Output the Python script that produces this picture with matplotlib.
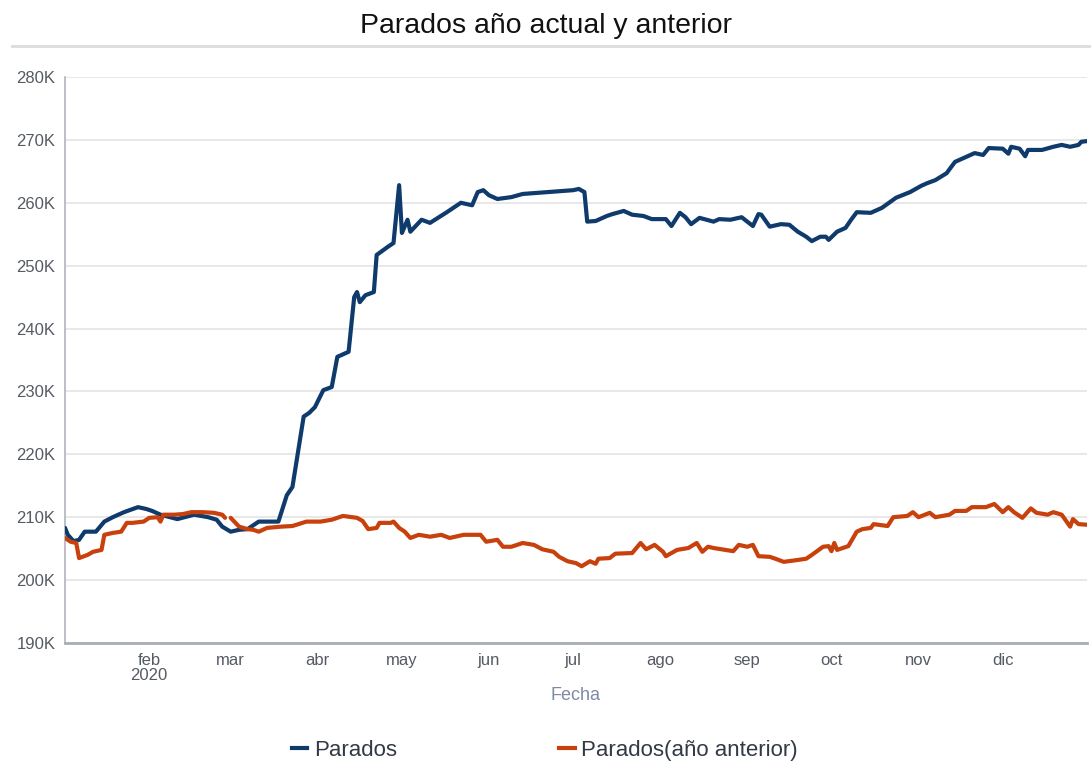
import matplotlib
matplotlib.use("Agg")
import matplotlib.pyplot as plt
from matplotlib.lines import Line2D
import pandas as pd
import numpy as np

plt.rcParams['font.family'] = ['Liberation Sans', 'DejaVu Sans']

# --- data (values in thousands) ---
parados_dates = [
    "2020-01-02", "2020-01-03", "2020-01-05", "2020-01-07", "2020-01-09", "2020-01-13",
    "2020-01-16", "2020-01-19", "2020-01-23", "2020-01-28", "2020-01-31", "2020-02-02",
    "2020-02-05", "2020-02-11", "2020-02-17", "2020-02-22", "2020-02-25", "2020-02-27",
    "2020-03-01", "2020-03-04", "2020-03-07", "2020-03-11", "2020-03-18", "2020-03-19",
    "2020-03-21", "2020-03-23", "2020-03-27", "2020-03-29", "2020-03-31", "2020-04-03",
    "2020-04-06", "2020-04-08", "2020-04-12", "2020-04-14", "2020-04-15", "2020-04-16",
    "2020-04-18", "2020-04-21", "2020-04-22", "2020-04-26", "2020-04-28", "2020-04-30",
    "2020-05-01", "2020-05-03", "2020-05-04", "2020-05-08", "2020-05-11", "2020-05-17",
    "2020-05-22", "2020-05-26", "2020-05-28", "2020-05-30", "2020-06-01", "2020-06-04",
    "2020-06-09", "2020-06-13", "2020-06-22", "2020-07-01", "2020-07-03", "2020-07-05",
    "2020-07-06", "2020-07-09", "2020-07-13", "2020-07-15", "2020-07-19", "2020-07-22",
    "2020-07-26", "2020-07-29", "2020-08-03", "2020-08-05", "2020-08-08", "2020-08-10",
    "2020-08-12", "2020-08-15", "2020-08-20", "2020-08-22", "2020-08-26", "2020-08-30",
    "2020-09-03", "2020-09-05", "2020-09-06", "2020-09-09", "2020-09-13", "2020-09-16",
    "2020-09-19", "2020-09-22", "2020-09-24", "2020-09-27", "2020-09-29", "2020-09-30",
    "2020-10-03", "2020-10-06", "2020-10-08", "2020-10-10", "2020-10-15", "2020-10-19",
    "2020-10-24", "2020-10-29", "2020-11-02", "2020-11-04", "2020-11-07", "2020-11-11",
    "2020-11-14", "2020-11-18", "2020-11-21", "2020-11-24", "2020-11-26", "2020-12-01",
    "2020-12-03", "2020-12-04", "2020-12-07", "2020-12-09", "2020-12-10", "2020-12-15",
    "2020-12-19", "2020-12-22", "2020-12-25", "2020-12-28", "2020-12-29", "2020-12-31",
]
parados_values = [
    208.3, 207.2, 206.2, 206.4, 207.7, 207.7,
    209.3, 210.0, 210.8, 211.6, 211.3, 211.0,
    210.4, 209.7, 210.4, 210.0, 209.6, 208.5,
    207.7, 208.0, 208.1, 209.3, 209.3, 210.7,
    213.5, 214.8, 226.0, 226.6, 227.5, 230.2,
    230.7, 235.5, 236.3, 245.0, 245.8, 244.2,
    245.3, 245.8, 251.7, 253.0, 253.6, 262.8,
    255.2, 257.3, 255.4, 257.3, 256.8, 258.5,
    260.0, 259.6, 261.7, 262.0, 261.2, 260.6,
    260.9, 261.4, 261.7, 262.0, 262.2, 261.7,
    257.0, 257.1, 257.9, 258.2, 258.7, 258.1,
    257.9, 257.4, 257.4, 256.3, 258.4, 257.7,
    256.6, 257.6, 257.0, 257.4, 257.3, 257.7,
    256.3, 258.2, 258.1, 256.2, 256.6, 256.5,
    255.4, 254.6, 253.9, 254.6, 254.6, 254.1,
    255.4, 256.0, 257.3, 258.5, 258.4, 259.2,
    260.8, 261.7, 262.7, 263.1, 263.6, 264.7,
    266.5, 267.3, 267.9, 267.6, 268.7, 268.6,
    267.8, 268.9, 268.6, 267.4, 268.4, 268.4,
    268.9, 269.2, 268.9, 269.2, 269.7, 269.8,
]

anterior_dates = [
    "2020-01-02", "2020-01-04", "2020-01-06", "2020-01-07", "2020-01-10", "2020-01-12",
    "2020-01-15", "2020-01-16", "2020-01-19", "2020-01-22", "2020-01-24", "2020-01-26",
    "2020-01-30", "2020-02-01", "2020-02-04", "2020-02-05", "2020-02-06", "2020-02-10",
    "2020-02-13", "2020-02-16", "2020-02-20", "2020-02-24", "2020-02-27", "2020-02-28",
    "2020-02-29",
    "2020-03-01", "2020-03-04", "2020-03-07", "2020-03-09", "2020-03-11", "2020-03-14",
    "2020-03-19", "2020-03-23", "2020-03-28", "2020-04-02", "2020-04-06", "2020-04-10",
    "2020-04-15", "2020-04-17", "2020-04-19", "2020-04-22", "2020-04-23", "2020-04-27",
    "2020-04-28", "2020-04-30", "2020-05-02", "2020-05-04", "2020-05-07", "2020-05-11",
    "2020-05-15", "2020-05-18", "2020-05-23", "2020-05-29", "2020-05-31", "2020-06-04",
    "2020-06-06", "2020-06-09", "2020-06-13", "2020-06-17", "2020-06-20", "2020-06-24",
    "2020-06-26", "2020-06-29", "2020-07-02", "2020-07-04", "2020-07-07", "2020-07-09",
    "2020-07-10", "2020-07-14", "2020-07-16", "2020-07-22", "2020-07-25", "2020-07-27",
    "2020-07-30", "2020-08-02", "2020-08-03", "2020-08-07", "2020-08-11", "2020-08-14",
    "2020-08-16", "2020-08-18", "2020-08-20", "2020-08-27", "2020-08-29", "2020-09-01",
    "2020-09-03", "2020-09-05", "2020-09-09", "2020-09-11", "2020-09-14", "2020-09-19",
    "2020-09-22", "2020-09-24", "2020-09-28", "2020-09-30", "2020-10-01", "2020-10-02",
    "2020-10-03", "2020-10-07", "2020-10-10", "2020-10-12", "2020-10-15", "2020-10-16",
    "2020-10-21", "2020-10-23", "2020-10-28", "2020-10-30", "2020-11-01", "2020-11-05",
    "2020-11-07", "2020-11-12", "2020-11-14", "2020-11-18", "2020-11-20", "2020-11-25",
    "2020-11-28", "2020-12-01", "2020-12-03", "2020-12-05", "2020-12-08", "2020-12-11",
    "2020-12-13", "2020-12-17", "2020-12-19", "2020-12-22", "2020-12-25", "2020-12-26",
    "2020-12-28", "2020-12-31",
]
anterior_values = [
    206.7, 206.1, 205.9, 203.5, 204.0, 204.5,
    204.8, 207.2, 207.5, 207.7, 209.1, 209.1,
    209.3, 209.9, 210.0, 209.3, 210.4, 210.4,
    210.5, 210.8, 210.8, 210.7, 210.4, 209.9,
    np.nan,
    209.9, 208.5, 208.1, 208.0, 207.7, 208.3,
    208.5, 208.6, 209.3, 209.3, 209.6, 210.2,
    209.9, 209.4, 208.1, 208.3, 209.1, 209.1,
    209.3, 208.3, 207.7, 206.7, 207.2, 206.9,
    207.2, 206.7, 207.2, 207.2, 206.1, 206.4,
    205.3, 205.3, 205.9, 205.6, 204.9, 204.5,
    203.7, 203.0, 202.7, 202.2, 203.0, 202.6,
    203.4, 203.5, 204.2, 204.3, 205.9, 204.9,
    205.6, 204.5, 203.8, 204.8, 205.1, 205.9,
    204.5, 205.3, 205.1, 204.6, 205.6, 205.3,
    205.6, 203.8, 203.7, 203.4, 202.9, 203.2,
    203.4, 204.0, 205.3, 205.4, 204.6, 205.9,
    204.8, 205.4, 207.7, 208.1, 208.3, 208.9,
    208.6, 210.0, 210.2, 210.8, 210.0, 210.7,
    210.0, 210.4, 211.0, 211.0, 211.6, 211.6,
    212.1, 210.8, 211.6, 210.8, 209.9, 211.4,
    210.7, 210.4, 210.8, 210.4, 208.5, 209.7,
    208.9, 208.8,
]

series_labels = ["Parados", "Parados(año anterior)"]
month_labels = ["feb\n2020", "mar", "abr", "may", "jun", "jul", "ago", "sep", "oct", "nov", "dic"]
month_starts = ["2020-02-01", "2020-03-01", "2020-04-01", "2020-05-01", "2020-06-01", "2020-07-01",
                "2020-08-01", "2020-09-01", "2020-10-01", "2020-11-01", "2020-12-01"]
y_ticks = [190, 200, 210, 220, 230, 240, 250, 260, 270, 280]

BLUE = "#0f3a6c"
ORANGE = "#c8400c"
GREY_TXT = "#555a63"

fig = plt.figure(figsize=(10.91, 7.63), dpi=100)
ax = fig.add_axes([0.0596, 0.1573, 0.9367, 0.7418])

ax.plot(pd.to_datetime(parados_dates), parados_values, color=BLUE, lw=3.0,
        solid_joinstyle="round", solid_capstyle="round", label=series_labels[0], zorder=3)
ax.plot(pd.to_datetime(anterior_dates), anterior_values, color=ORANGE, lw=3.0,
        solid_joinstyle="round", solid_capstyle="round", label=series_labels[1], zorder=3)

ax.set_ylim(190, 280)
ax.set_yticks(y_ticks)
ax.set_yticklabels([f"{v}K" for v in y_ticks], color=GREY_TXT, fontsize=12)
ax.set_xlim(pd.Timestamp("2020-01-02"), pd.Timestamp("2020-12-31"))
ax.set_xticks(pd.to_datetime(month_starts))
ax.set_xticklabels(month_labels, color=GREY_TXT, fontsize=12, linespacing=1.0)
ax.tick_params(axis="both", length=0)
ax.tick_params(axis="y", pad=7)
ax.tick_params(axis="x", pad=7)

ax.grid(axis="y", color="#e4e4e4", lw=1.2)
ax.set_axisbelow(True)
for s in ["top", "right"]:
    ax.spines[s].set_visible(False)
ax.spines["left"].set_color("#b0b4bb")
ax.spines["left"].set_linewidth(1.2)
ax.spines["bottom"].set_color("#a9adb5")
ax.spines["bottom"].set_linewidth(2.0)

ax.set_xlabel("Fecha", color="#7f8aa6", fontsize=13, labelpad=3)

fig.text(0.5, 0.966, "Parados año actual y anterior", ha="center", va="center",
         fontsize=20.5, color="#111111")
fig.add_artist(Line2D([12 / 1091, 1.0], [1 - 46 / 763, 1 - 46 / 763],
                      transform=fig.transFigure, color="#dcdcdc", lw=2))

handles = [Line2D([0], [0], color=BLUE, lw=3), Line2D([0], [0], color=ORANGE, lw=3)]
fig.legend(handles, series_labels, loc="center", bbox_to_anchor=(0.4995, 0.017), ncol=2,
           frameon=False, fontsize=16, handlelength=0.7, handletextpad=0.3,
           columnspacing=7.3, labelcolor="#333a45")

fig.savefig("out.png", dpi=100)
